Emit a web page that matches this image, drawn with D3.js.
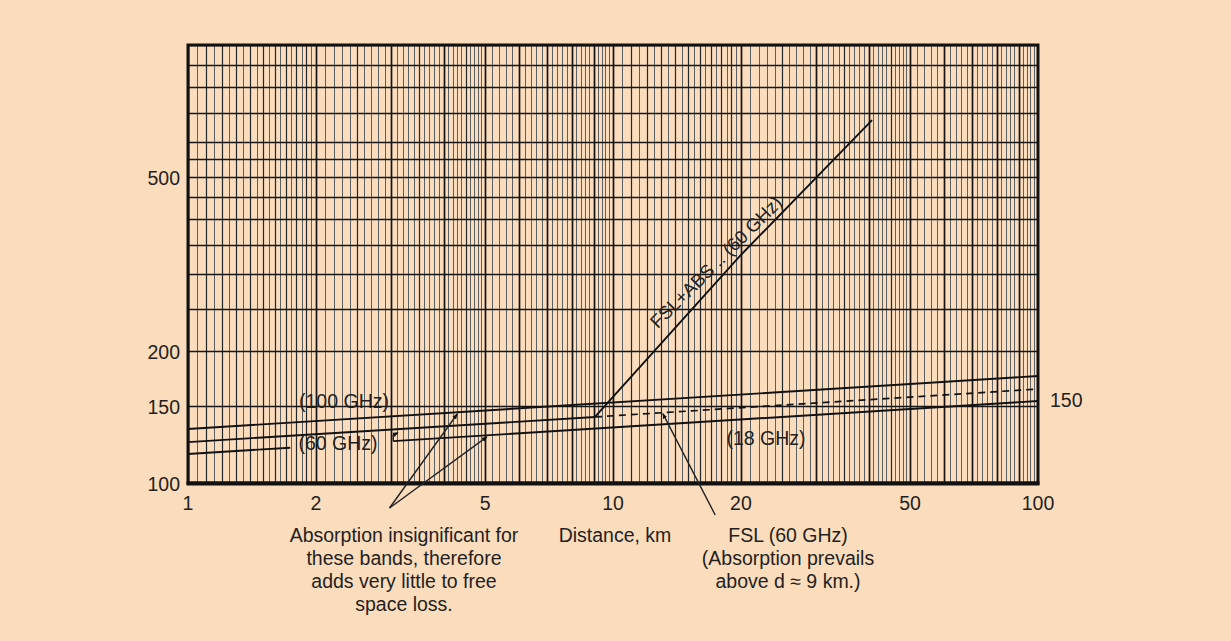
<!DOCTYPE html>
<html>
<head>
<meta charset="utf-8">
<script src="https://cdn.jsdelivr.net/npm/d3@7"></script>
<style>
  html, body { margin: 0; padding: 0; background: #fbdcbd; }
  svg { display: block; }
  text { font-family: "Liberation Sans", Arial, sans-serif; fill: #231f20; }
</style>
</head>
<body>
<div id="chart"></div>
<script>
// axis values
var xTickValues = [1, 2, 5, 10, 20, 50, 100];
var yTickValues = [100, 150, 200, 500];
var yTickRight = [150];
var yGridValues = [100, 150, 200, 250, 300, 350, 400, 450, 500, 550, 600, 700, 800, 900, 1000];

// loss curves (distance km, loss)
var fsl100 = [[1, 132.8], [100, 175.5]];
var fsl60 = [[1, 124.0], [9.07, 141.5]];
var fsl60Dashed = [[9.07, 141.5], [100, 163.9]];
var fsl18Left = [[1, 116.5], [1.74, 120.4]];
var fsl18Right = [[3.04, 124.6], [100, 153.9]];
var fslAbs60 = [[9.07, 141.5], [19.9, 330], [40.7, 674]];

// leader lines for the notes
var leaderAbsorption = [[[2.98, 87.7], [4.30, 143.7]], [[2.98, 87.7], [5.05, 127.4]]];
var leaderFsl = [[17.4, 84.5], [13.1, 144]];
var leader60 = [[3.04, 124.6], [3.04, 128.7], [3.12, 130.3]];

var noteAbsorption = ["Absorption insignificant for", "these bands, therefore", "adds very little to free", "space loss."];
var noteFsl = ["FSL (60 GHz)", "(Absorption prevails", "above d \u2248 9 km.)"];

var width = 1231, height = 641;
var svg = d3.select("#chart").append("svg")
  .attr("width", width)
  .attr("height", height);

svg.append("rect").attr("width", width).attr("height", height).attr("fill", "#fbdcbd");

var x = d3.scaleLog().domain([1, 100]).range([188, 1038]);
var y = d3.scaleLog().domain([100, 1000]).range([483, 45]);

// graph paper vertical rulings
var buildGridX = function() {
  var out = [];
  [1, 10].forEach(function(base) {
    var k;
    for (k = 100; k < 200; k += 5) {
      out.push({v: k / 100 * base, kind: k % 100 === 0 ? "major" : (k % 10 === 0 ? "mid" : "minor")});
    }
    for (k = 200; k < 500; k += 10) {
      out.push({v: k / 100 * base, kind: k % 100 === 0 ? "major" : (k % 50 === 0 ? "mid" : "minor")});
    }
    for (k = 500; k < 1000; k += 20) {
      out.push({v: k / 100 * base, kind: k % 100 === 0 ? "major" : "minor"});
    }
  });
  return out;
};

var gridStyle = {
  major: {stroke: "#141414", width: 1.7},
  mid: {stroke: "#22282c", width: 1.2},
  minor: {stroke: "#3e4b54", width: 1}
};

var grid = svg.append("g").attr("class", "grid");
grid.selectAll("line.vx")
  .data(buildGridX())
  .enter().append("line")
    .attr("class", "vx")
    .attr("x1", function(d) { return Math.round(x(d.v)) + 0.5; })
    .attr("x2", function(d) { return Math.round(x(d.v)) + 0.5; })
    .attr("y1", y(1000))
    .attr("y2", y(100))
    .attr("stroke", function(d) { return gridStyle[d.kind].stroke; })
    .attr("stroke-width", function(d) { return gridStyle[d.kind].width; })
    .attr("opacity", function(d) { return d.kind === "minor" ? 0.85 : 1; });

grid.selectAll("line.hy")
  .data(yGridValues)
  .enter().append("line")
    .attr("class", "hy")
    .attr("x1", x(1))
    .attr("x2", x(100))
    .attr("y1", function(d) { return Math.round(y(d)) + 0.5; })
    .attr("y2", function(d) { return Math.round(y(d)) + 0.5; })
    .attr("stroke", "#161616")
    .attr("stroke-width", 1.5);

// frame
svg.append("rect")
  .attr("x", x(1))
  .attr("y", y(1000))
  .attr("width", x(100) - x(1))
  .attr("height", y(100) - y(1000))
  .attr("fill", "none")
  .attr("stroke", "#111")
  .attr("stroke-width", 3);
svg.append("line")
  .attr("x1", x(1) - 1.5).attr("x2", x(100) + 1.5)
  .attr("y1", y(100) + 0.5).attr("y2", y(100) + 0.5)
  .attr("stroke", "#111").attr("stroke-width", 4);

// arrow marker
svg.append("defs").append("marker")
  .attr("id", "tip")
  .attr("viewBox", "0 0 10 10")
  .attr("refX", 9).attr("refY", 5)
  .attr("markerWidth", 4).attr("markerHeight", 4)
  .attr("orient", "auto")
  .append("path")
    .attr("d", "M0,1 L10,5 L0,9 Z")
    .attr("fill", "#111");

var line = d3.line()
  .x(function(d) { return x(d[0]); })
  .y(function(d) { return y(d[1]); });

var curves = svg.append("g").attr("class", "curves")
  .attr("fill", "none")
  .attr("stroke", "#111");

[fsl100, fsl60, fsl18Left, fsl18Right, fslAbs60].forEach(function(c) {
  curves.append("path").datum(c).attr("d", line).attr("stroke-width", 1.9);
});
curves.append("path").datum(fsl60Dashed)
  .attr("d", line)
  .attr("stroke-width", 1.7)
  .attr("stroke-dasharray", "7,5");

var leaders = svg.append("g").attr("class", "leaders")
  .attr("fill", "none")
  .attr("stroke", "#222")
  .attr("stroke-width", 1.4);
leaderAbsorption.forEach(function(l) {
  leaders.append("path").datum(l).attr("d", line).attr("marker-end", "url(#tip)");
});
leaders.append("path").datum(leaderFsl).attr("d", line).attr("marker-end", "url(#tip)");
leaders.append("path").datum(leader60).attr("d", line).attr("marker-end", "url(#tip)");

// tick labels
var labels = svg.append("g").attr("font-size", "19.5px");
labels.selectAll("text.xt")
  .data(xTickValues)
  .enter().append("text")
    .attr("class", "xt")
    .attr("x", function(d) { return x(d); })
    .attr("y", 503)
    .attr("text-anchor", "middle")
    .attr("dominant-baseline", "central")
    .text(function(d) { return d; });

labels.selectAll("text.yt")
  .data(yTickValues)
  .enter().append("text")
    .attr("class", "yt")
    .attr("x", x(1) - 8)
    .attr("y", function(d) { return y(d) + 1; })
    .attr("text-anchor", "end")
    .attr("dominant-baseline", "central")
    .text(function(d) { return d; });

labels.selectAll("text.yr")
  .data(yTickRight)
  .enter().append("text")
    .attr("class", "yr")
    .attr("x", x(100) + 12)
    .attr("y", function(d) { return y(d) - 6; })
    .attr("dominant-baseline", "central")
    .text(function(d) { return d; });

// curve labels
var curveLabel = function(txt, px, py) {
  labels.append("text")
    .attr("x", px).attr("y", py)
    .attr("text-anchor", "middle")
    .attr("dominant-baseline", "central")
    .text(txt);
};
curveLabel("(100 GHz)", 344, 401);
curveLabel("(60 GHz)", 338, 443);
curveLabel("(18 GHz)", 766, 438);

var a0 = [x(fslAbs60[0][0]), y(fslAbs60[0][1])];
var a1 = [x(fslAbs60[2][0]), y(fslAbs60[2][1])];
var absAngle = Math.atan2(a1[1] - a0[1], a1[0] - a0[0]) * 180 / Math.PI;
labels.append("text")
  .attr("transform", "translate(716,262) rotate(" + (absAngle + 2) + ")")
  .attr("font-size", "18.5px")
  .attr("text-anchor", "middle")
  .attr("dominant-baseline", "central")
  .text("FSL+ABS .. (60 GHz)");

// notes under the axis
labels.append("text")
  .attr("x", 615).attr("y", 535)
  .attr("text-anchor", "middle")
  .attr("dominant-baseline", "central")
  .text("Distance, km");

labels.selectAll("text.na")
  .data(noteAbsorption)
  .enter().append("text")
    .attr("class", "na")
    .attr("x", 404)
    .attr("y", function(d, i) { return 535 + i * 23; })
    .attr("text-anchor", "middle")
    .attr("dominant-baseline", "central")
    .text(function(d) { return d; });

labels.selectAll("text.nf")
  .data(noteFsl)
  .enter().append("text")
    .attr("class", "nf")
    .attr("x", 788)
    .attr("y", function(d, i) { return 535 + i * 23; })
    .attr("text-anchor", "middle")
    .attr("dominant-baseline", "central")
    .text(function(d) { return d; });
</script>
</body>
</html>
